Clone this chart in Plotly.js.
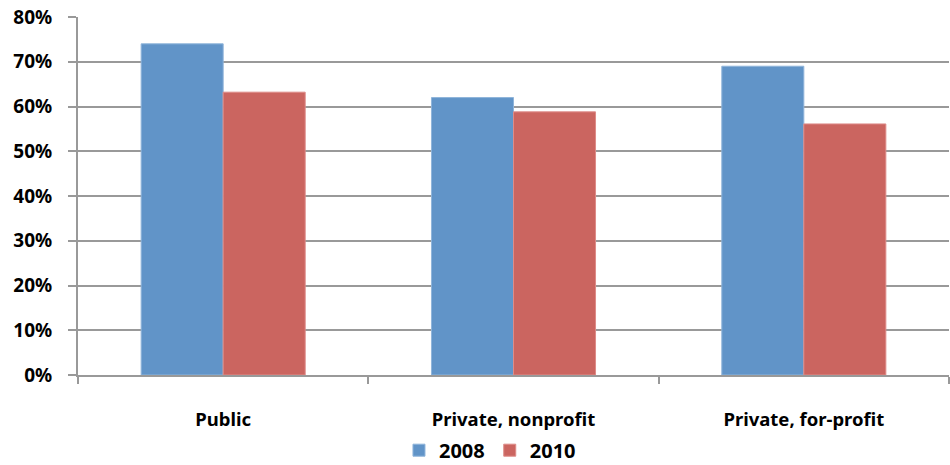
<!DOCTYPE html>
<html><head><meta charset="utf-8">
<script src="https://cdn.plot.ly/plotly-3.0.1.min.js"></script>
<style>html,body{margin:0;padding:0;background:#fff}#chart{width:950px;height:465px}</style>
</head><body><div id="chart"></div>
<script>
const categories = ["Public", "Private, nonprofit", "Private, for-profit"];
const values2008 = [0.74, 0.62, 0.69];
const values2010 = [0.632, 0.588, 0.561];
const seriesNames = ["2008", "2010"];
const yTickVals = [0, 0.1, 0.2, 0.3, 0.4, 0.5, 0.6, 0.7, 0.8];

const font = {family: "Noto Sans, DejaVu Sans, sans-serif", size: 16, color: "#000"};
const traces = [
  {type: "bar", name: seriesNames[0], x: categories, y: values2008,
   marker: {color: "#6194C8", line: {color: "#8FB4DA", width: 1}}},
  {type: "bar", name: seriesNames[1], x: categories, y: values2010,
   marker: {color: "#CB6560", line: {color: "#DE8C88", width: 1}}}
];
const layout = {
  width: 950, height: 465,
  margin: {l: 78, r: 1, t: 17, b: 90, autoexpand: false},
  barmode: "group", bargap: 0.435, bargroupgap: 0,
  paper_bgcolor: "#fff", plot_bgcolor: "#fff",
  font: font,
  xaxis: {type: "category", range: [-0.5, 2.5], tickson: "boundaries", automargin: false,
    ticks: "outside", ticklen: 7, tickwidth: 2, tickcolor: "#999",
    showline: true, linecolor: "#999", linewidth: 2, showgrid: false,
    ticklabelstandoff: 27,
    tickfont: {family: "Noto Sans, DejaVu Sans, sans-serif", size: 18.5, color: "#000", weight: "bold"}},
  yaxis: {range: [0, 0.8], tickvals: yTickVals, tickformat: ".0%", automargin: false,
    ticks: "outside", ticklen: 8, tickwidth: 2, tickcolor: "#999",
    showline: true, linecolor: "#999", linewidth: 2,
    showgrid: true, gridcolor: "#999", gridwidth: 2, zeroline: false,
    ticklabelstandoff: 12,
    tickfont: {family: "Noto Sans, DejaVu Sans, sans-serif", size: 19, color: "#000", weight: "bold"}},
  legend: {orientation: "h", x: 0.473, xanchor: "center", y: -0.21, yanchor: "middle",
    font: {family: "Noto Sans, DejaVu Sans, sans-serif", size: 20, color: "#000", weight: "bold"},
    itemwidth: 30, traceorder: "normal"},
  showlegend: true
};
Plotly.newPlot("chart", traces, layout, {displayModeBar: false, staticPlot: true});
</script></body></html>
